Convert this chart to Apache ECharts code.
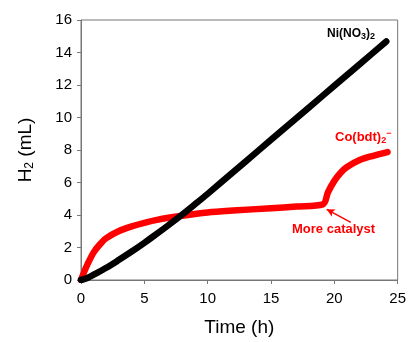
<!DOCTYPE html>
<html><head><meta charset="utf-8">
<script src="https://cdn.jsdelivr.net/npm/echarts@6/dist/echarts.min.js"></script>
<style>html,body{margin:0;padding:0;background:#fff}#c{width:409px;height:342px}</style>
</head><body><div id="c"></div>
<script>
// Ni(NO3)2 series: time (h), H2 (mL)
const niTime = [0, 0.5, 1, 2, 3, 4, 5, 6, 7, 8, 9, 10, 12, 14, 16, 18, 20, 22, 24.1];
const niH2   = [0, 0.12, 0.33, 0.75, 1.24, 1.75, 2.29, 2.85, 3.43, 4.03, 4.66, 5.3, 6.63, 7.96, 9.29, 10.62, 11.95, 13.28, 14.68];
// Co(bdt)2- series
const coTime = [0, 0.25, 0.5, 1, 1.5, 2, 3, 4, 5, 6, 8, 10, 12, 15, 17, 19.1, 19.5, 20, 20.5, 21, 22, 23, 24.2];
const coH2   = [0, 0.5, 0.95, 1.7, 2.2, 2.58, 3.02, 3.3, 3.52, 3.7, 3.95, 4.15, 4.27, 4.42, 4.52, 4.65, 5.4, 6.1, 6.6, 6.95, 7.38, 7.63, 7.87];
const xTicks = [0, 5, 10, 15, 20, 25];
const yTicks = [0, 2, 4, 6, 8, 10, 12, 14, 16];
const arrowFrom = [21.3, 3.55];
const arrowTo = [19.4, 4.35];

const chart = echarts.init(document.getElementById('c'));
const F = 'Liberation Sans, Arial, sans-serif';
chart.setOption({
  animation: false,
  grid: {left: 81, right: 10, top: 20, bottom: 61, show: true, borderColor: '#777', borderWidth: 1},
  xAxis: {
    type: 'value', min: xTicks[0], max: xTicks[xTicks.length-1], interval: 5,
    axisLine: {lineStyle: {color: '#777'}},
    axisTick: {inside: false, length: 4, lineStyle: {color: '#777'}},
    splitLine: {show: false},
    axisLabel: {fontFamily: F, fontSize: 15, color: '#000', margin: 11},
    name: 'Time (h)', nameLocation: 'middle', nameGap: 38,
    nameTextStyle: {fontFamily: F, fontSize: 19, color: '#000'}
  },
  yAxis: {
    type: 'value', min: yTicks[0], max: yTicks[yTicks.length-1], interval: 2,
    axisLine: {lineStyle: {color: '#777'}},
    axisTick: {inside: false, length: 4, lineStyle: {color: '#777'}},
    splitLine: {show: false},
    axisLabel: {fontFamily: F, fontSize: 15, color: '#000', margin: 9},
    name: '{m|H}{s|2}{m| (mL)}', nameLocation: 'middle', nameGap: 45, nameRotate: 90,
    nameTextStyle: {fontFamily: F, color: '#000',
      rich: {m: {fontFamily: F, fontSize: 19, color: '#000'}, s: {fontFamily: F, fontSize: 12, color: '#000', verticalAlign: 'bottom', padding: [8,0,0,0]}}}
  },
  series: [
    {
      type: 'line', smooth: 0.3, showSymbol: false,
      data: niTime.map((t, i) => [t, niH2[i]]),
      lineStyle: {color: '#000', width: 6.5, cap: 'round', join: 'round'}, z: 3
    },
    {
      type: 'line', smooth: 0.3, showSymbol: false,
      data: coTime.map((t, i) => [t, coH2[i]]),
      lineStyle: {color: '#ff0000', width: 6.5, cap: 'round', join: 'round'}, z: 2,
      markLine: {
        silent: true, symbol: ['none', 'arrow'], symbolSize: [6, 8],
        lineStyle: {color: '#ff0000', width: 1.5, type: 'solid'}, label: {show: false},
        data: [[{coord: arrowFrom}, {coord: arrowTo}]]
      }
    }
  ],
  graphic: [
    {type: 'text', left: 327, top: 28, style: {
      text: '{b|Ni(NO}{s|3}{b|)}{s|2}', fill: '#000',
      rich: {b: {fontFamily: F, fontSize: 12, fontWeight: 'bold', fill: '#000'},
             s: {fontFamily: F, fontSize: 9, fontWeight: 'bold', fill: '#000', verticalAlign: 'bottom', padding: [6,0,0,0]}}}},
    {type: 'text', left: 335, top: 129, style: {
      text: '{b|Co(bdt)}{s|2}{p|−}', fill: '#ff0000',
      rich: {b: {fontFamily: F, fontSize: 13, fontWeight: 'bold', fill: '#ff0000'},
             s: {fontFamily: F, fontSize: 9, fontWeight: 'bold', fill: '#ff0000', verticalAlign: 'bottom', padding: [6,0,0,0]},
             p: {fontFamily: F, fontSize: 9, fontWeight: 'bold', fill: '#ff0000', verticalAlign: 'top', padding: [0,0,7,0]}}}},
    {type: 'text', left: 292, top: 223, style: {
      text: 'More catalyst', fill: '#ff0000', font: 'bold 13px ' + F}}
  ]
});
</script></body></html>
